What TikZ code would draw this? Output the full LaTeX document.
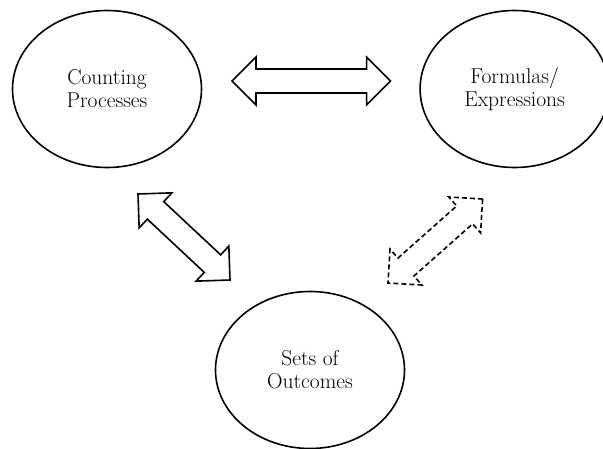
\documentclass[tikz,border=0pt]{standalone}
\usepackage{fontspec}
\usepackage{tikz}
\usetikzlibrary{shapes.geometric, calc, positioning}
\tikzstyle{bubble} = [ellipse, draw, line width=1.6pt, minimum width=189pt, minimum height=157pt, inner sep=0pt, align=center, font=\fontsize{21.5}{23}\selectfont]
\tikzstyle{bigarrow} = [draw, line width=1.6pt, line join=miter]
\tikzstyle{maybe} = [dash pattern=on 5pt off 3pt]
% double block arrow between two points
\newcommand{\dblarrow}[3][]{%
  \draw[bigarrow,#1] (#2)
    -- ($(#2)!24pt!(#3)!24pt!90:(#3)$)
    -- ($(#2)!24pt!(#3)!12pt!90:(#3)$)
    -- ($(#3)!24pt!(#2)!12pt!-90:(#2)$)
    -- ($(#3)!24pt!(#2)!24pt!-90:(#2)$)
    -- (#3)
    -- ($(#3)!24pt!(#2)!24pt!90:(#2)$)
    -- ($(#3)!24pt!(#2)!12pt!90:(#2)$)
    -- ($(#2)!24pt!(#3)!12pt!-90:(#3)$)
    -- ($(#2)!24pt!(#3)!24pt!-90:(#3)$)
    -- cycle;}

\begin{document}
\begin{tikzpicture}[x=1pt, y=1pt, node distance=217pt]
  \useasboundingbox (0,0) rectangle (603,448);

  % Ovalos
  \node (count) [bubble] at (107,359) {Counting\\Processes};
  \node (formula) [bubble, right=of count] {Formulas/\\Expressions};
  \node (outcome) [bubble] at (310,78) {Sets of\\Outcomes};

  % Extremos de las flechas
  \coordinate (cfA) at ($(count)+(125,8)$);
  \coordinate (cfB) at ($(formula)+(-124,8)$);
  \coordinate (coA) at ($(count)+(31,-105)$);
  \coordinate (coB) at ($(outcome)+(-80,90)$);
  \coordinate (foA) at ($(formula)+(-32,-110)$);
  \coordinate (foB) at ($(outcome)+(78,87)$);

  % Flechas dobles
  \dblarrow{cfA}{cfB}
  \dblarrow{coA}{coB}
  \dblarrow[maybe]{foA}{foB}

\end{tikzpicture}
\end{document}
